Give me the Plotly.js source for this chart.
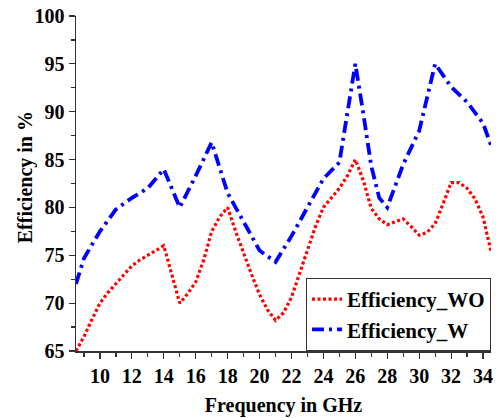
<!DOCTYPE html>
<html><head><meta charset="utf-8">
<script src="https://cdn.plot.ly/plotly-3.0.1.min.js"></script>
<style>html,body{margin:0;padding:0;background:#fff}#chart{width:496px;height:418px}</style>
</head><body><div id="chart"></div>
<script>
var freqWO = [8.5,9,9.5,10,10.5,11,11.5,12,12.5,13,13.5,14,14.5,15,15.5,16,16.5,17,17.5,18,18.5,19,19.5,20,20.5,21,21.5,22,22.5,23,23.5,24,24.5,25,25.5,26,26.5,27,27.5,28,28.5,29,29.5,30,30.5,31,31.5,32,32.5,33,33.5,34,34.5];
var effWO = [65,66.5,68.3,70,71.1,72,73,73.9,74.5,75,75.5,76,73,70,71,72.2,74.5,77.5,79,80,77.5,75.2,73,70.9,69.3,68.2,69,70.6,73,75.5,78,80,81,82,83.3,85,82.8,79.9,78.8,78.2,78.5,78.8,78,77.1,77.4,78.3,80.4,82.6,82.6,82,80.9,79,75.4];
var freqW = [8.5,9,10,11,12,13,14,15,16,17,18,19,20,21,22,23,24,25,26,26.5,27,27.5,28,29,30,31,32,33,34,34.5];
var effW = [72,74.7,77.5,79.8,81,82,84,80,83.3,86.8,81.5,78.5,75.5,74.3,77,80,83,84.7,95,89.8,84.3,81,80,84.5,88,95,92.6,91,88.8,86.5];
var xTicks = [10,12,14,16,18,20,22,24,26,28,30,32,34];
var yTicks = [65,70,75,80,85,90,95,100];

var F = 'Liberation Serif, Times New Roman, serif';
var traces = [
  {x: freqWO, y: effWO, name: 'Efficiency_WO', mode: 'lines',
   line: {color: '#ff0000', width: 3.2, dash: '3px,2.5px'}},
  {x: freqW, y: effW, name: 'Efficiency_W', mode: 'lines',
   line: {color: '#0000ff', width: 3.8, dash: '12px,5px,3px,5px'}}
];
var axisCommon = {
  showgrid: false, zeroline: false, showline: true, linecolor: '#333', linewidth: 1.5,
  ticks: 'outside', ticklen: 6, tickwidth: 1.2, tickcolor: '#333',
  tickfont: {family: F, size: 20, color: '#000', weight: 'bold'}
};
var layout = {
  width: 496, height: 418,
  margin: {l: 76, r: 5, t: 16, b: 67},
  paper_bgcolor: '#fff', plot_bgcolor: '#fff',
  showlegend: true,
  legend: {x: 1, xanchor: 'right', y: 0, yanchor: 'bottom', bgcolor: '#fff',
           bordercolor: '#333', borderwidth: 1, tracegroupgap: 0,
           font: {family: F, size: 21, color: '#000', weight: 'bold'}},
  xaxis: Object.assign({}, axisCommon, {
    range: [8.5, 34.5], tickvals: xTicks, ticktext: xTicks.map(String),
    minor: {dtick: 1, tick0: 0, ticks: 'outside', ticklen: 4, tickcolor: '#333'},
    title: {text: 'Frequency in GHz', standoff: 12, font: {family: F, size: 20, color: '#000', weight: 'bold'}}
  }),
  yaxis: Object.assign({}, axisCommon, {
    range: [65, 100], tickvals: yTicks, ticktext: yTicks.map(String),
    minor: {dtick: 2.5, tick0: 0, ticks: 'outside', ticklen: 4, tickcolor: '#333'}
  }),
  annotations: [{text: 'Efficiency in %', textangle: -90, xref: 'paper', yref: 'paper',
    x: -0.121, y: 0.518, xanchor: 'center', yanchor: 'middle', showarrow: false,
    font: {family: F, size: 20, color: '#000', weight: 'bold'}}]
};
Plotly.newPlot('chart', traces, layout, {displayModeBar: false, staticPlot: true});
</script></body></html>
